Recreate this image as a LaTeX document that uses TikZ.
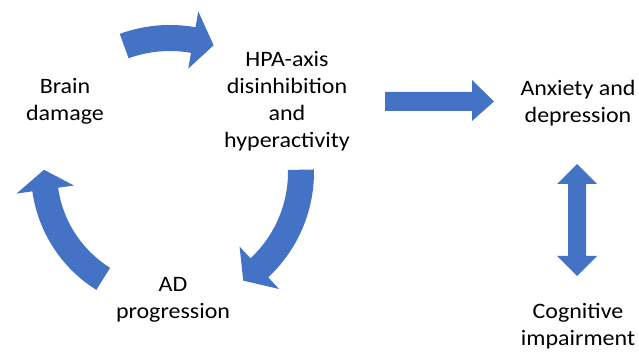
\documentclass[tikz,border=0pt]{standalone}
\usepackage{fontspec}
\setmainfont{Carlito}[FakeStretch=1.09]
\usetikzlibrary{calc}
\definecolor{arrowblue}{HTML}{4472C4}
\newcommand\curvedblock[5]{% center, radius, start angle, head-base angle, tip angle
  \fill[arrowblue] ($(#1)+({#3}:{#2+13})$) arc[start angle=#3, end angle=#4, radius=#2+13]
    -- ($(#1)+({#4}:{#2+29})$) -- ($(#1)+({#5}:{#2})$) -- ($(#1)+({#4}:{#2-29})$)
    -- ($(#1)+({#4}:{#2-13})$) arc[start angle=#4, end angle=#3, radius=#2-13] -- cycle;}
\tikzset{
  lbl/.style={align=center, font=\fontsize{22}{27}\selectfont, inner sep=0pt, text=black},
  blockarrow/.style={fill=arrowblue, draw=none}
}
\begin{document}
\begin{tikzpicture}[x=1pt,y=1pt]
\useasboundingbox (0,0) rectangle (639,353);
\coordinate (cc) at (170,181);
% texts
\node[lbl] (brain) at (65,251.5) {Brain\\damage};
\node[lbl] (hpa) at (287,252) {HPA-axis\\disinhibition\\and\\hyperactivity};
\node[lbl] (anx) at (578,250) {Anxiety and\\depression};
\node[lbl] (ad) at (173,53) {AD\\progression};
\node[lbl] (cog) at (578,27) {Cognitive\\impairment};
% curved cycle arrows
\curvedblock{cc}{134}{110}{80}{71}
\curvedblock{cc}{131}{1}{-47}{-56}
\curvedblock{cc}{126}{238}{188}{179}
% straight arrow
\coordinate (s1) at (385,251.5);
\coordinate (s2) at (494,251.5);
\fill[blockarrow] (385,261) -- (472,261) -- (472,273) -- (s2) -- (472,232) -- (472,242) -- (385,242) -- cycle;
% double arrow
\coordinate (d1) at (577,189);
\coordinate (d2) at (577,77);
\fill[blockarrow] (d1) -- (597,169) -- (586,169) -- (586,97) -- (597,97) -- (d2) -- (557,97) -- (568,97) -- (568,169) -- (557,169) -- cycle;
\end{tikzpicture}
\end{document}
